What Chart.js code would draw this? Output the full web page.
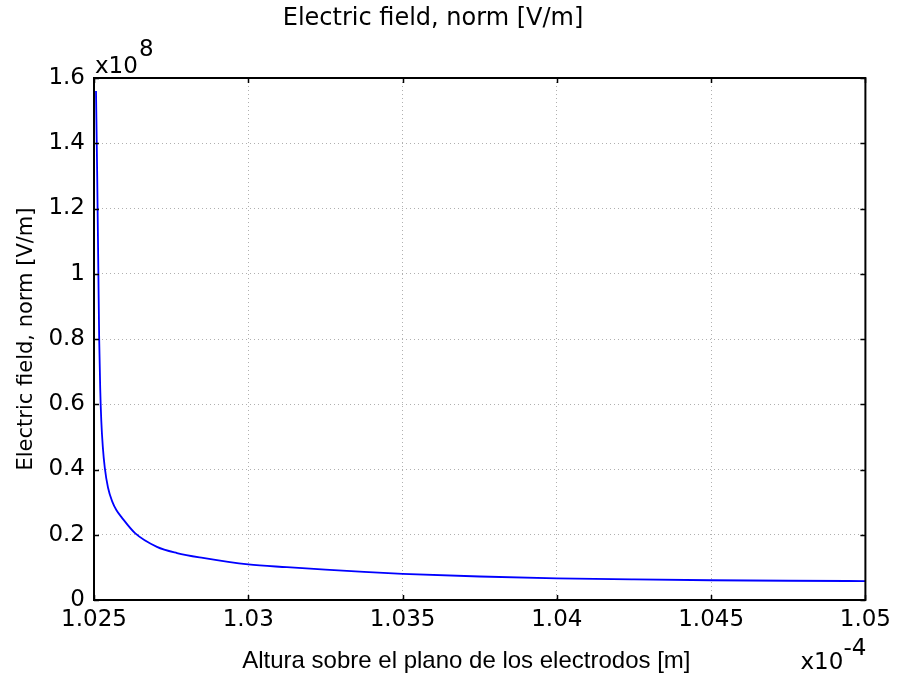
<!DOCTYPE html>
<html>
<head>
<meta charset="utf-8">
<title>Electric field, norm [V/m]</title>
<script src="https://cdn.jsdelivr.net/npm/chart.js@4/dist/chart.umd.min.js"></script>
<style>
  html, body { margin: 0; padding: 0; background: #ffffff; }
  #wrap { width: 897px; height: 673px; position: relative; }
</style>
</head>
<body>
<div id="wrap"><canvas id="chart" width="897" height="673"></canvas></div>
<script>
// Height above the electrode plane, in units of 1e-4 m
const heights = [1.025065, 1.025104, 1.025142, 1.025168, 1.025201, 1.025236, 1.025285,
  1.025350, 1.025453, 1.025599, 1.025729, 1.025891, 1.02633, 1.02704, 1.02769, 1.02853,
  1.03000, 1.03125, 1.03250, 1.03375, 1.03500, 1.03750, 1.04000, 1.04250,
  1.04500, 1.04750, 1.05000];
// Electric field norm, in units of 1e8 V/m
const fieldNorm = [1.56, 1.30, 1.00, 0.80, 0.65, 0.55, 0.47,
  0.405, 0.345, 0.300, 0.275, 0.254, 0.205, 0.163, 0.144, 0.129,
  0.109, 0.1005, 0.093, 0.086, 0.080, 0.072, 0.0665, 0.0630,
  0.0605, 0.0590, 0.0580];

const xTicks = [1.025, 1.03, 1.035, 1.04, 1.045, 1.05];
const yTicks = [0, 0.2, 0.4, 0.6, 0.8, 1, 1.2, 1.4, 1.6];

const points = heights.map((h, i) => ({ x: h, y: fieldNorm[i] }));

const tickFont = { family: 'DejaVu Sans', size: 23 };

// Frame around the plot area with short inward tick marks on all four sides,
// plus the axis multipliers.
const framePlugin = {
  id: 'frame',
  afterDraw(chart) {
    const { ctx, chartArea: a, scales } = chart;
    const tl = 5;
    ctx.save();
    ctx.strokeStyle = '#000000';
    ctx.lineWidth = 1.5;
    ctx.beginPath();
    xTicks.forEach(v => {
      const px = Math.round(scales.x.getPixelForValue(v)) + 0.5;
      ctx.moveTo(px, a.bottom); ctx.lineTo(px, a.bottom - tl);
      ctx.moveTo(px, a.top); ctx.lineTo(px, a.top + tl);
    });
    yTicks.forEach(v => {
      const py = Math.round(scales.y.getPixelForValue(v)) + 0.5;
      ctx.moveTo(a.left, py); ctx.lineTo(a.left + tl, py);
      ctx.moveTo(a.right, py); ctx.lineTo(a.right - tl, py);
    });
    ctx.stroke();
    ctx.lineWidth = 2;
    ctx.strokeRect(a.left, a.top, a.right - a.left, a.bottom - a.top);

    ctx.fillStyle = '#000000';
    ctx.textBaseline = 'alphabetic';
    ctx.textAlign = 'left';
    ctx.font = '23px "DejaVu Sans"';
    ctx.fillText('x10', a.left + 1, a.top - 5);
    ctx.fillText('8', a.left + 45, a.top - 22);
    ctx.fillText('x10', a.right - 65, 669);
    ctx.fillText('-4', a.right - 22, 655);
    ctx.restore();
  }
};

new Chart(document.getElementById('chart'), {
  type: 'line',
  data: {
    datasets: [{
      data: points,
      borderColor: '#0000ff',
      borderWidth: 1.8,
      pointRadius: 0,
      fill: false,
      cubicInterpolationMode: 'monotone'
    }]
  },
  options: {
    responsive: false,
    animation: false,
    devicePixelRatio: 1,
    layout: { padding: { left: 0, right: 31, top: 0, bottom: 0 } },
    plugins: {
      legend: { display: false },
      tooltip: { enabled: false },
      title: {
        display: true,
        text: 'Electric field, norm [V/m]',
        color: '#000000',
        font: { family: 'DejaVu Sans', size: 24, weight: 'normal', lineHeight: 1.2 },
        padding: { top: 4, bottom: 45.2 }
      }
    },
    scales: {
      x: {
        type: 'linear',
        min: 1.025,
        max: 1.05,
        afterBuildTicks: s => { s.ticks = xTicks.map(v => ({ value: v })); },
        afterFit: s => { s.height = 73; },
        grid: { color: '#b0b0b0', lineWidth: 1, drawTicks: false },
        border: { display: false, dash: [1, 3] },
        ticks: {
          color: '#000000',
          font: tickFont,
          padding: 6,
          maxRotation: 0,
          autoSkip: false,
          callback: v => String(+v.toFixed(3))
        },
        title: {
          display: true,
          text: 'Altura sobre el plano de los electrodos [m]    ',
          color: '#000000',
          font: { family: 'Liberation Sans', size: 24, lineHeight: 1 },
          padding: { top: 0, bottom: 0 }
        }
      },
      y: {
        type: 'linear',
        min: 0,
        max: 1.6,
        afterBuildTicks: s => { s.ticks = yTicks.map(v => ({ value: v })); },
        afterFit: s => { s.width = 94; },
        grid: { color: '#b0b0b0', lineWidth: 1, drawTicks: false },
        border: { display: false, dash: [1, 3] },
        ticks: {
          color: '#000000',
          font: tickFont,
          padding: 9,
          autoSkip: false,
          callback: v => String(Math.round(v * 10) / 10)
        },
        title: {
          display: true,
          text: 'Electric field, norm [V/m]',
          color: '#000000',
          font: { family: 'DejaVu Sans', size: 21, lineHeight: 1.2 },
          padding: { top: 14, bottom: 0 }
        }
      }
    }
  },
  plugins: [framePlugin]
});
</script>
</body>
</html>
